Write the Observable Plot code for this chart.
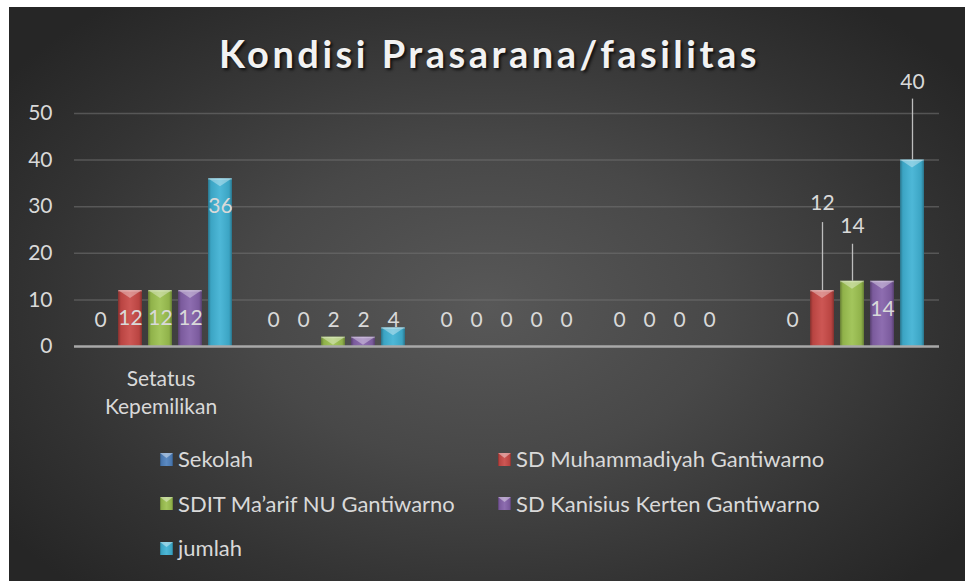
<!DOCTYPE html>
<html><head><meta charset="utf-8">
<script src="https://cdn.jsdelivr.net/npm/d3@7"></script>
<script src="https://cdn.jsdelivr.net/npm/@observablehq/plot@0.6"></script>
<style>
body{margin:0;background:#fff;}
#chart{position:relative;width:965px;height:581px;overflow:hidden;font-family:Lato,"Open Sans",sans-serif;}
#bg{position:absolute;left:9px;top:7px;right:0;bottom:0;
  background:radial-gradient(ellipse 62% 68% at 50% 52%, #585858 0%, #484848 40%, #333 75%, #262626 100%);}
#title{position:absolute;left:0;top:34px;width:979px;text-align:center;font-size:38px;line-height:38px;font-weight:700;letter-spacing:3.5px;color:#f2f2f2;text-shadow:2px 2px 3px rgba(0,0,0,0.75);white-space:nowrap;}
#plot{position:absolute;left:0;top:0;}
.legend-item{position:absolute;display:flex;align-items:center;height:24px;font-size:22px;line-height:22px;color:#d9d9d9;white-space:nowrap;}
.legend-item svg{margin-right:5px;}
</style></head><body>
<svg width="0" height="0" style="position:absolute">
  <defs>
    <linearGradient id="sheen" x1="0" x2="1" y1="0" y2="0">
      <stop offset="0" stop-color="#000" stop-opacity="0.35"/>
      <stop offset="0.12" stop-color="#000" stop-opacity="0.08"/>
      <stop offset="0.5" stop-color="#fff" stop-opacity="0.07"/>
      <stop offset="0.88" stop-color="#000" stop-opacity="0.08"/>
      <stop offset="1" stop-color="#000" stop-opacity="0.35"/>
    </linearGradient>
  </defs>
</svg>
<div id="chart"><div id="bg"></div><div id="title">Kondisi Prasarana/fasilitas</div><div id="plot"></div><div id="legend"></div></div>
<script>
// ---- data ----
const groupLabels = ["Setatus Kepemilikan", "", "", "", ""];
const seriesNames = ["Sekolah", "SD Muhammadiyah Gantiwarno", "SDIT Ma’arif NU Gantiwarno", "SD Kanisius Kerten Gantiwarno", "jumlah"];
const sekolah        = [0, 0, 0, 0, 0];
const sdMuhammadiyah = [12, 0, 0, 0, 12];
const sditMaarif     = [12, 2, 0, 0, 14];
const sdKanisius     = [12, 2, 0, 0, 14];
const jumlah         = [36, 4, 0, null, 40];
const seriesColors = ["#4f81bd", "#c94a47", "#9cc150", "#8562aa", "#40b2d4"];
const yTicks = [0, 10, 20, 30, 40, 50];

// ---- layout / style ----
const W = 965, H = 430, mL = 73, mR = 25, mT = 113, mB = 84;
const yMax = 50;
const ppu = (H - mT - mB) / yMax;
const textColor = "#d9d9d9";
const fs = 21;
// label callouts (pixel offsets above bar top): label centre and leader-line length
const callouts = new Map([
  ["4|1", {label: 87, line: 68}],
  ["4|2", {label: 55, line: 37}],
  ["4|4", {label: 78, line: 61}]
]);

const valueSeries = [sekolah, sdMuhammadiyah, sditMaarif, sdKanisius, jumlah];
const rows = [];
groupLabels.forEach((g, gi) => seriesNames.forEach((s, si) => {
  const v = valueSeries[si][gi];
  if (v != null) rows.push({group: gi, series: s, value: v, key: gi + "|" + si});
}));
const groupRows = groupLabels.map((label, i) => ({group: i, label}));
const calloutRows = rows.filter(d => callouts.has(d.key));

function labelY(d) {
  const c = callouts.get(d.key);
  if (c) return d.value + c.label / ppu;
  if (d.value * ppu >= 40) return d.value - 28 / ppu;
  return 26 / ppu;
}

const plot = Plot.plot({
  width: W, height: H,
  marginLeft: mL, marginRight: mR, marginTop: mT, marginBottom: mB,
  style: {background: "transparent", fontFamily: "Lato, 'Open Sans', sans-serif", overflow: "visible"},
  fx: {domain: groupLabels.map((_, i) => i), padding: 0, axis: null},
  x: {domain: seriesNames, paddingInner: 0.194, paddingOuter: 0.394, axis: null},
  y: {domain: [0, yMax], axis: null},
  color: {domain: seriesNames, range: seriesColors},
  marks: [
    Plot.gridY(yTicks.filter(t => t > 0), {stroke: "#707070", strokeOpacity: 0.6, strokeWidth: 1.5}),
    Plot.barY(rows, {fx: "group", x: "series", y: "value", fill: "series"}),
    Plot.ruleY([0], {stroke: "#a8a8a8", strokeWidth: 2.5}),
    Plot.ruleX(calloutRows, {fx: "group", x: "series", y1: "value", y2: d => d.value + callouts.get(d.key).line / ppu, stroke: "#bdbdbd", strokeWidth: 1.3}),
    Plot.text(rows, {fx: "group", x: "series", y: labelY, text: d => String(d.value), fill: textColor, fontSize: fs}),
    Plot.axisY(yTicks, {tickSize: 0, tickPadding: 22, fontSize: fs, fill: textColor, label: null}),
    Plot.text(groupRows, {fx: "group", text: "label", frameAnchor: "bottom", lineAnchor: "top", dy: 20, lineWidth: 6, lineHeight: 1.33, fontSize: fs, fill: textColor})
  ]
});

// bevel look: side shading + top highlight on each bar drawn by Plot
d3.select(plot).selectAll('g[aria-label="bar"] rect').each(function () {
  const x = +this.getAttribute("x"), y = +this.getAttribute("y");
  const w = +this.getAttribute("width"), h = +this.getAttribute("height");
  if (!(h >= 1)) return;
  const th = Math.min(8, h);
  const p = d3.select(this.parentNode);
  p.append("rect").attr("x", x).attr("y", y).attr("width", w).attr("height", h)
    .attr("fill", "url(#sheen)");
  p.append("polygon")
    .attr("points", `${x},${y} ${x + w},${y} ${x + w / 2},${y + th}`)
    .attr("fill", "#fff").attr("fill-opacity", 0.35);
  p.append("rect").attr("x", x).attr("y", y).attr("width", w).attr("height", 1.5)
    .attr("fill", "#fff").attr("fill-opacity", 0.25);
});

document.getElementById("plot").appendChild(plot);

// legend
const colorScale = plot.scale("color");
const legend = document.getElementById("legend");
colorScale.domain.forEach((name, i) => {
  const col = i % 2, row = Math.floor(i / 2);
  const item = document.createElement("div");
  item.className = "legend-item";
  item.style.left = (160 + col * 338) + "px";
  item.style.top = (459 + row * 44.5 - 12) + "px";
  const c = colorScale.range[i];
  item.innerHTML = `<svg width="13" height="13"><rect width="13" height="13" fill="${c}"/><rect width="13" height="13" fill="url(#sheen)"/><polygon points="0,0 13,0 6.5,5" fill="#fff" fill-opacity="0.4"/></svg><span></span>`;
  item.querySelector("span").textContent = name;
  legend.appendChild(item);
});
</script>
</body></html>
